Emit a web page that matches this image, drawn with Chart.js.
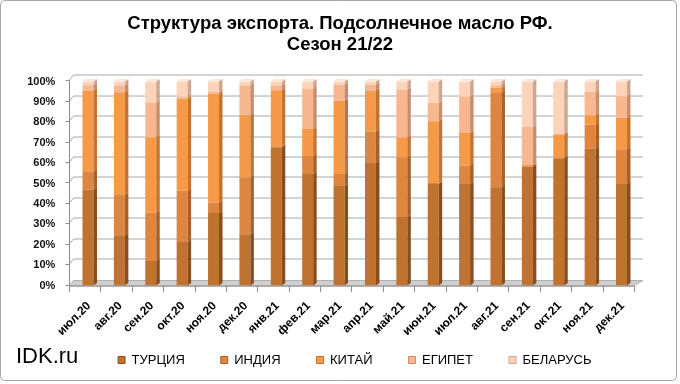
<!DOCTYPE html>
<html>
<head>
<meta charset="utf-8">
<script src="https://cdn.jsdelivr.net/npm/chart.js@4.4.1/dist/chart.umd.min.js"></script>
<style>
html,body{margin:0;padding:0;background:#fff;}
canvas{display:block;}
</style>
</head>
<body>
<canvas id="c" width="680" height="384"></canvas>
<script>
const months = ['июл.20','авг.20','сен.20','окт.20','ноя.20','дек.20','янв.21','фев.21','мар.21','апр.21','май.21','июн.21','июл.21','авг.21','сен.21','окт.21','ноя.21','дек.21'];
const turkey  = [47.0,24.6,12.0,21.3,35.5,25.1,67.8,54.7,48.8,60.0,33.6,49.8,49.8,48.1,58.3,62.4,67.0,49.8];
const india   = [ 9.0,19.7,23.6,25.2, 5.2,27.9, 0.5, 8.8, 5.9,15.5,29.3, 0.5, 9.0,46.6, 0.0, 0.0,11.8,17.0];
const china   = [39.6,50.4,37.1,45.0,53.3,30.7,27.4,13.2,35.9,20.1, 9.7,30.2,15.9, 2.2, 0.8,11.5, 4.6,15.3];
const egypt   = [ 2.6, 3.3,16.8, 1.0, 1.0,14.3, 2.3,19.8, 7.9, 2.9,23.4, 9.0,17.8, 1.1,18.6, 0.6,11.5,10.7];
const belarus = [ 1.8, 2.0,10.5, 7.5, 5.0, 2.0, 2.0, 3.5, 1.5, 1.5, 4.0,10.5, 7.5, 2.0,22.3,25.5, 5.1, 7.2];
const seriesNames = ['ТУРЦИЯ','ИНДИЯ','КИТАЙ','ЕГИПЕТ','БЕЛАРУСЬ'];
const yTicks = [0,10,20,30,40,50,60,70,80,90,100];
const titleLines = ['Структура экспорта. Подсолнечное масло РФ.','Сезон 21/22'];

const fronts = ['#C0722F','#DE863F','#F79A48','#F9B78F','#FDD3BA'];
const sides  = ['#8A4E1E','#A8612B','#C47432','#C78E6C','#CCA690'];
const tops   = ['#D9935A','#EBA468','#FBB679','#FCCDB0','#FEE4D6'];

const FONT = '"Liberation Sans", Arial, sans-serif';

const DX = 3.5, DY = -2.5;       // bar extrusion
const WDX = 4.5, WDY = -5.5;     // wall depth at left
const WDXR = 9;                  // wall depth at right

const threeD = {
  id: 'threeD',
  beforeDraw(chart) {
    const ctx = chart.ctx;
    ctx.save();
    ctx.fillStyle = '#fff';
    ctx.fillRect(0, 0, chart.width, chart.height);
    ctx.strokeStyle = '#A6A6A6';
    ctx.lineWidth = 1;
    const r = 4, x0 = 0.5, y0 = 0.5, x1 = 676.5, y1 = 380.5;
    ctx.beginPath();
    ctx.moveTo(x0 + r, y0); ctx.lineTo(x1 - r, y0); ctx.quadraticCurveTo(x1, y0, x1, y0 + r);
    ctx.lineTo(x1, y1 - r); ctx.quadraticCurveTo(x1, y1, x1 - r, y1);
    ctx.lineTo(x0 + r, y1); ctx.quadraticCurveTo(x0, y1, x0, y1 - r);
    ctx.lineTo(x0, y0 + r); ctx.quadraticCurveTo(x0, y0, x0 + r, y0);
    ctx.stroke();
    ctx.restore();
  },
  beforeDatasetsDraw(chart) {
    const ctx = chart.ctx;
    const ys = chart.scales.y;
    const ca = chart.chartArea;
    const fl = ca.left - 3.3, fr = ca.right - 3.3;
    const yb = ys.getPixelForValue(0) + 0.5;
    ctx.save();
    // floor
    ctx.beginPath();
    ctx.moveTo(fl, yb); ctx.lineTo(fr, yb); ctx.lineTo(fr + WDXR, yb + WDY); ctx.lineTo(fl + WDX, yb + WDY); ctx.closePath();
    ctx.fillStyle = '#CFCFCF'; ctx.fill();
    ctx.strokeStyle = '#B0B0B0'; ctx.lineWidth = 1; ctx.stroke();
    // gridlines
    ctx.strokeStyle = '#A8A8A8';
    ctx.lineWidth = 1;
    yTicks.forEach(v => {
      if (v === 0) return;
      const y = Math.round(ys.getPixelForValue(v) - 1) + 0.5;
      ctx.beginPath();
      ctx.moveTo(fl, y);
      ctx.lineTo(fl + WDX, y + WDY);
      ctx.lineTo(fr + WDXR, y + WDY);
      ctx.stroke();
    });
    // left axis line + ticks
    ctx.strokeStyle = '#8C8C8C';
    ctx.beginPath();
    const ax = Math.round(fl) + 0.5;
    ctx.moveTo(ax, ys.getPixelForValue(100) - 1);
    ctx.lineTo(ax, yb);
    yTicks.forEach(v => {
      const y = Math.round(ys.getPixelForValue(v) - 1) + 0.5;
      ctx.moveTo(ax - 4, y); ctx.lineTo(ax, y);
    });
    // x axis ticks
    const step = (fr - fl) / months.length;
    for (let i = 0; i <= months.length; i++) {
      const x = Math.round(fl + i * step) + 0.5;
      ctx.moveTo(x, yb); ctx.lineTo(x, yb + 6);
    }
    ctx.moveTo(fl, yb); ctx.lineTo(fr, yb);
    ctx.stroke();
    ctx.restore();
  },
  afterDatasetsDraw(chart) {
    const ctx = chart.ctx;
    const n = chart.data.datasets.length;
    ctx.save();
    for (let j = 0; j < months.length; j++) {
      let topIdx = -1;
      for (let i = 0; i < n; i++) {
        const p = chart.getDatasetMeta(i).data[j].getProps(['x','y','base','width'], true);
        if (Math.abs(p.base - p.y) < 0.01) continue;
        topIdx = i;
        const r = p.x + p.width / 2;
        ctx.beginPath();
        ctx.moveTo(r, p.base); ctx.lineTo(r + DX, p.base + DY); ctx.lineTo(r + DX, p.y + DY); ctx.lineTo(r, p.y); ctx.closePath();
        ctx.fillStyle = sides[i]; ctx.fill();
      }
      if (topIdx >= 0) {
        const p = chart.getDatasetMeta(topIdx).data[j].getProps(['x','y','base','width'], true);
        const l = p.x - p.width / 2, r = p.x + p.width / 2;
        ctx.beginPath();
        ctx.moveTo(l, p.y); ctx.lineTo(l + DX, p.y + DY); ctx.lineTo(r + DX, p.y + DY); ctx.lineTo(r, p.y); ctx.closePath();
        ctx.fillStyle = tops[topIdx]; ctx.fill();
      }
    }
    ctx.restore();
  },
  afterDraw(chart) {
    const ctx = chart.ctx;
    const xs = chart.scales.x;
    ctx.save();
    // rotated category labels, positioned from the x scale
    ctx.fillStyle = '#000';
    ctx.font = 'bold 12px ' + FONT;
    ctx.textAlign = 'right';
    ctx.textBaseline = 'middle';
    const ly = chart.scales.y.getPixelForValue(0) + 18.5;
    months.forEach((m, i) => {
      const x = xs.getPixelForValue(i) + 1;
      ctx.save();
      ctx.translate(x, ly);
      ctx.rotate(-Math.PI / 4);
      ctx.fillText(xs.getLabelForValue(i), 0, 0);
      ctx.restore();
    });
    ctx.font = '22px ' + FONT;
    ctx.textBaseline = 'alphabetic';
    ctx.textAlign = 'left';
    ctx.fillText('IDK.ru', 16, 363);
    ctx.restore();
  }
};

const seriesData = [turkey, india, china, egypt, belarus];
new Chart(document.getElementById('c'), {
  type: 'bar',
  data: {
    labels: months,
    datasets: seriesNames.map((name, i) => ({
      label: name,
      data: seriesData[i],
      backgroundColor: fronts[i],
      borderWidth: 0,
      categoryPercentage: 1,
      barPercentage: 0.35
    }))
  },
  options: {
    responsive: false,
    animation: false,
    events: [],
    layout: { padding: { left: 0, right: 0, top: 0, bottom: 7.5 } },
    plugins: {
      title: {
        display: true,
        text: titleLines,
        color: '#000',
        font: { family: FONT, size: 18.5, weight: 'bold', lineHeight: 1.14 },
        padding: { top: 13.5, bottom: 25.8 }
      },
      legend: {
        position: 'bottom',
        fullSize: false,
        labels: {
          boxWidth: 7, boxHeight: 7, padding: 36, color: '#000',
          font: { family: FONT, size: 13 },
          generateLabels(chart) {
            return chart.data.datasets.map((d, i) => ({
              text: d.label, fillStyle: fronts[i], strokeStyle: sides[i], lineWidth: 1,
              hidden: false, datasetIndex: i, fontColor: '#000'
            }));
          }
        }
      },
      tooltip: { enabled: false }
    },
    scales: {
      x: {
        stacked: true,
        grid: { display: false, drawTicks: false, tickLength: 0 },
        border: { display: false },
        ticks: { display: false },
        afterFit(s) { s.height = 32; }
      },
      y: {
        stacked: true, min: 0, max: 100,
        grid: { display: false, drawTicks: false, tickLength: 0 },
        border: { display: false },
        ticks: { color: '#111', padding: 17, stepSize: 10, autoSkip: false, callback: v => v + '%',
                 font: { family: FONT, size: 11, weight: 'bold' } },
        afterFit(s) { s.width = 72.3; }
      },
      y2: {
        position: 'right', display: true,
        grid: { display: false, drawTicks: false, tickLength: 0 },
        border: { display: false },
        ticks: { display: false },
        afterFit(s) { s.width = 42.8; }
      }
    }
  },
  plugins: [threeD]
});
</script>
</body>
</html>
